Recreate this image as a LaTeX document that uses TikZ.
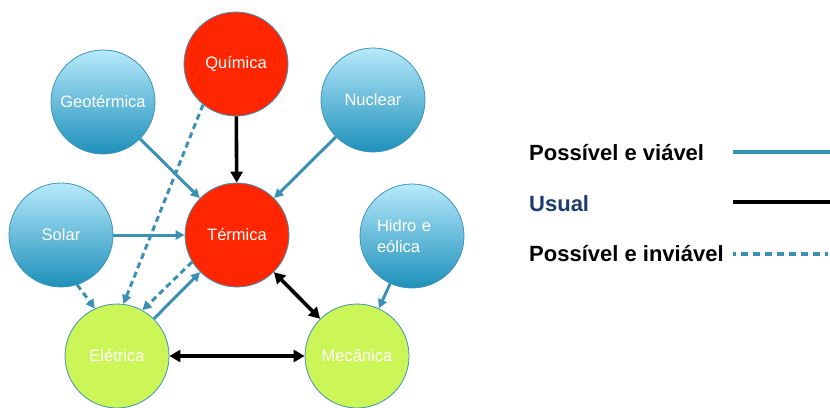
\documentclass[tikz,border=0pt]{standalone}
\usepackage{fontspec}
\setmainfont{Liberation Sans}
\usetikzlibrary{arrows.meta}

\definecolor{azul}{RGB}{58,145,180}
\definecolor{azulclaro}{RGB}{182,233,251}
\definecolor{azulescuro}{RGB}{30,144,186}
\definecolor{borda}{RGB}{62,148,184}
\definecolor{vermelho}{RGB}{255,38,0}
\definecolor{verde}{RGB}{204,245,88}
\definecolor{marinho}{RGB}{28,60,112}

\begin{document}
\begin{tikzpicture}[x=1pt,y=-1pt,
  circulo/.style={circle,minimum size=104pt,inner sep=0pt,draw=borda,line width=0.8pt,
    text=white,font=\fontsize{16.5}{21}\selectfont},
  fonte/.style={circulo,top color=azulclaro,bottom color=azulescuro},
  quente/.style={circulo,fill=vermelho},
  final/.style={circulo,fill=verde},
  viavel/.style={draw=azul,line width=3pt,-{Triangle[length=9pt,width=9pt]}},
  inviavel/.style={viavel,dash pattern=on 6pt off 4pt},
  usual/.style={draw=black,line width=3.6pt,-{Triangle[length=11pt,width=12pt]}},
  usual2/.style={usual,{Triangle[length=11pt,width=12pt]}-{Triangle[length=11pt,width=12pt]}},
  legenda/.style={anchor=base west,inner sep=0pt,font=\fontsize{22}{24}\selectfont\bfseries}]
\useasboundingbox (0,0) rectangle (830,407);

  % formas de energia
  \node[quente] (quim) at (236,64) {Química};
  \node[fonte] (geo) at (103,102) {Geotérmica};
  \node[fonte] (nucl) at (373,100) {Nuclear};
  \node[fonte] (solar) at (61,235) {Solar};
  \node[quente] (term) at (237,235) {Térmica};
  \node[fonte,text width=70pt,align=left] (hidro) at (412,236) {Hidro e\\eólica};
  \node[final] (elet) at (117,356) {Elétrica};
  \node[final] (mec) at (357,356) {Mecânica};

  % conversoes
  \draw[viavel] (geo) -- (term);
  \draw[viavel] (nucl) -- (term);
  \draw[viavel] (solar) -- (term);
  \draw[viavel] (hidro) -- (mec);
  \draw[viavel] (elet) -- (term);
  \draw[inviavel] (term.211) -- (elet.61);
  \draw[inviavel] (quim.231) -- (elet.83);
  \draw[inviavel] (solar.-72) -- (elet.115);
  \draw[usual] (quim) -- (term);
  \draw[usual2] (term) -- (mec);
  \draw[usual2] (elet) -- (mec);

  % legenda
  \node[legenda] (leg1) at (529,160) {Possível e viável};
  \node[legenda,text=marinho] (leg2) at (529,211) {Usual};
  \node[legenda] (leg3) at (529,261) {Possível e inviável};
  \coordinate (a1) at (733,152); \coordinate (b1) at (830,152);
  \coordinate (a2) at (733,202); \coordinate (b2) at (830,202);
  \coordinate (a3) at (733,254); \coordinate (b3) at (830,254);
  \draw[azul,line width=3.5pt] (a1) -- (b1);
  \draw[black,line width=3.5pt] (a2) -- (b2);
  \draw[azul,line width=3.5pt,dash pattern=on 3pt off 5pt on 7pt off 5pt on 7pt off 5pt on 7pt off 5pt on 7pt off 5pt on 7pt off 5pt on 7pt off 5pt on 7pt off 5pt] (a3) -- (b3);

\end{tikzpicture}
\end{document}
